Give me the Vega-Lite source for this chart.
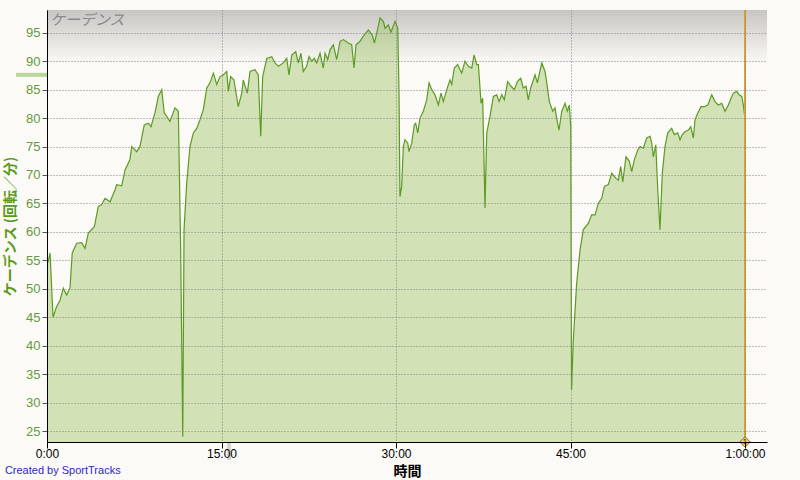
{
  "$schema": "https://vega.github.io/schema/vega-lite/v6.json",
  "width": 720,
  "height": 432,
  "autosize": {"type": "none"},
  "padding": {"left": 47, "top": 10, "right": 33, "bottom": 38},
  "background": "#fbfaf6",
  "config": {
    "view": {"stroke": null},
    "font": "Liberation Sans"
  },
  "datasets": {
    "one": [{}],
    "cad": [
      {"t": 0.0, "v": 54.5}, {"t": 0.11, "v": 54.8}, {"t": 0.26, "v": 56.3}, {"t": 0.52, "v": 45.0},
      {"t": 0.83, "v": 46.9}, {"t": 1.12, "v": 48.0}, {"t": 1.40, "v": 50.1}, {"t": 1.69, "v": 48.9},
      {"t": 1.98, "v": 50.2}, {"t": 2.17, "v": 56.3}, {"t": 2.55, "v": 58.0}, {"t": 2.98, "v": 58.1},
      {"t": 3.27, "v": 57.1}, {"t": 3.55, "v": 59.8}, {"t": 4.07, "v": 60.9}, {"t": 4.41, "v": 64.5},
      {"t": 4.70, "v": 64.8}, {"t": 4.99, "v": 65.9}, {"t": 5.42, "v": 65.3}, {"t": 5.85, "v": 67.4},
      {"t": 5.99, "v": 68.3}, {"t": 6.42, "v": 68.1}, {"t": 6.71, "v": 70.9}, {"t": 7.13, "v": 72.7},
      {"t": 7.28, "v": 75.0}, {"t": 7.71, "v": 74.1}, {"t": 7.99, "v": 75.0}, {"t": 8.36, "v": 78.8},
      {"t": 8.71, "v": 79.1}, {"t": 8.94, "v": 78.5}, {"t": 9.28, "v": 80.9}, {"t": 9.57, "v": 83.8},
      {"t": 9.86, "v": 85.0}, {"t": 10.08, "v": 80.9}, {"t": 10.29, "v": 80.3}, {"t": 10.57, "v": 79.4},
      {"t": 11.00, "v": 81.8}, {"t": 11.29, "v": 81.2}, {"t": 11.49, "v": 56.8}, {"t": 11.67, "v": 24.0},
      {"t": 11.78, "v": 60.4}, {"t": 12.01, "v": 68.6}, {"t": 12.29, "v": 75.0}, {"t": 12.58, "v": 77.4},
      {"t": 12.87, "v": 78.2}, {"t": 13.15, "v": 79.7}, {"t": 13.44, "v": 81.5}, {"t": 13.73, "v": 85.3},
      {"t": 14.01, "v": 86.2}, {"t": 14.30, "v": 87.9}, {"t": 14.59, "v": 85.9}, {"t": 14.87, "v": 87.3},
      {"t": 15.16, "v": 87.6}, {"t": 15.45, "v": 88.2}, {"t": 15.59, "v": 84.7}, {"t": 15.79, "v": 87.3},
      {"t": 16.07, "v": 86.7}, {"t": 16.44, "v": 82.0}, {"t": 16.74, "v": 84.4}, {"t": 16.87, "v": 86.7},
      {"t": 17.22, "v": 84.4}, {"t": 17.45, "v": 88.2}, {"t": 17.88, "v": 88.5}, {"t": 18.16, "v": 87.6},
      {"t": 18.37, "v": 76.8}, {"t": 18.54, "v": 87.3}, {"t": 18.89, "v": 90.5}, {"t": 19.32, "v": 90.8},
      {"t": 19.60, "v": 89.7}, {"t": 19.88, "v": 89.1}, {"t": 20.31, "v": 89.7}, {"t": 20.61, "v": 90.5},
      {"t": 20.80, "v": 87.6}, {"t": 21.04, "v": 91.1}, {"t": 21.38, "v": 91.7}, {"t": 21.60, "v": 89.7},
      {"t": 21.83, "v": 91.4}, {"t": 22.03, "v": 88.2}, {"t": 22.32, "v": 89.1}, {"t": 22.52, "v": 90.8},
      {"t": 22.75, "v": 90.0}, {"t": 22.98, "v": 90.5}, {"t": 23.18, "v": 89.7}, {"t": 23.47, "v": 91.4},
      {"t": 23.75, "v": 88.8}, {"t": 23.90, "v": 91.4}, {"t": 24.13, "v": 90.3}, {"t": 24.33, "v": 92.0},
      {"t": 24.61, "v": 92.9}, {"t": 24.90, "v": 90.3}, {"t": 25.19, "v": 93.5}, {"t": 25.47, "v": 93.8},
      {"t": 25.90, "v": 93.2}, {"t": 26.19, "v": 92.9}, {"t": 26.39, "v": 88.8}, {"t": 26.56, "v": 92.9},
      {"t": 26.91, "v": 93.5}, {"t": 27.19, "v": 94.4}, {"t": 27.62, "v": 95.5}, {"t": 27.96, "v": 94.6},
      {"t": 28.14, "v": 93.2}, {"t": 28.34, "v": 94.9}, {"t": 28.63, "v": 97.6}, {"t": 28.91, "v": 97.0},
      {"t": 29.06, "v": 95.8}, {"t": 29.34, "v": 96.4}, {"t": 29.57, "v": 95.1}, {"t": 29.92, "v": 97.0},
      {"t": 30.15, "v": 95.8}, {"t": 30.26, "v": 84.4}, {"t": 30.34, "v": 66.2}, {"t": 30.49, "v": 68.0},
      {"t": 30.63, "v": 75.0}, {"t": 30.77, "v": 76.2}, {"t": 31.01, "v": 75.6}, {"t": 31.12, "v": 74.1},
      {"t": 31.35, "v": 75.6}, {"t": 31.57, "v": 78.8}, {"t": 31.69, "v": 79.1}, {"t": 31.87, "v": 77.4},
      {"t": 32.06, "v": 80.0}, {"t": 32.35, "v": 81.2}, {"t": 32.64, "v": 83.2}, {"t": 32.84, "v": 86.2},
      {"t": 33.07, "v": 85.0}, {"t": 33.35, "v": 84.1}, {"t": 33.64, "v": 82.3}, {"t": 33.87, "v": 84.4},
      {"t": 34.07, "v": 82.9}, {"t": 34.36, "v": 85.0}, {"t": 34.64, "v": 86.7}, {"t": 34.79, "v": 85.9},
      {"t": 35.01, "v": 88.8}, {"t": 35.30, "v": 89.4}, {"t": 35.50, "v": 88.5}, {"t": 35.65, "v": 87.9},
      {"t": 35.93, "v": 90.0}, {"t": 36.22, "v": 89.1}, {"t": 36.51, "v": 88.8}, {"t": 36.71, "v": 91.1},
      {"t": 36.94, "v": 89.4}, {"t": 37.08, "v": 89.4}, {"t": 37.31, "v": 82.6}, {"t": 37.45, "v": 83.5},
      {"t": 37.65, "v": 64.2}, {"t": 37.80, "v": 77.4}, {"t": 38.08, "v": 80.3}, {"t": 38.37, "v": 83.8},
      {"t": 38.66, "v": 84.1}, {"t": 38.86, "v": 82.9}, {"t": 39.09, "v": 84.1}, {"t": 39.31, "v": 83.2},
      {"t": 39.60, "v": 86.4}, {"t": 39.89, "v": 85.6}, {"t": 40.17, "v": 85.0}, {"t": 40.43, "v": 86.4},
      {"t": 40.72, "v": 87.0}, {"t": 40.94, "v": 85.3}, {"t": 41.18, "v": 85.6}, {"t": 41.37, "v": 83.2},
      {"t": 41.58, "v": 85.3}, {"t": 41.95, "v": 87.6}, {"t": 42.15, "v": 86.2}, {"t": 42.53, "v": 89.7},
      {"t": 42.81, "v": 88.2}, {"t": 42.96, "v": 86.2}, {"t": 43.18, "v": 82.9}, {"t": 43.47, "v": 81.2},
      {"t": 43.67, "v": 81.8}, {"t": 43.81, "v": 80.0}, {"t": 44.01, "v": 77.9}, {"t": 44.25, "v": 81.2},
      {"t": 44.53, "v": 82.6}, {"t": 44.73, "v": 81.2}, {"t": 44.90, "v": 82.3}, {"t": 45.02, "v": 78.5},
      {"t": 45.09, "v": 32.2}, {"t": 45.24, "v": 41.0}, {"t": 45.53, "v": 51.0}, {"t": 45.82, "v": 56.8},
      {"t": 46.10, "v": 60.4}, {"t": 46.53, "v": 61.5}, {"t": 46.82, "v": 63.0}, {"t": 47.11, "v": 63.0},
      {"t": 47.39, "v": 65.0}, {"t": 47.68, "v": 65.9}, {"t": 47.91, "v": 68.0}, {"t": 48.25, "v": 68.3},
      {"t": 48.54, "v": 70.3}, {"t": 48.91, "v": 69.4}, {"t": 49.11, "v": 69.1}, {"t": 49.32, "v": 71.5},
      {"t": 49.49, "v": 68.8}, {"t": 49.77, "v": 73.2}, {"t": 50.06, "v": 72.4}, {"t": 50.26, "v": 70.6},
      {"t": 50.49, "v": 72.7}, {"t": 50.78, "v": 74.4}, {"t": 50.98, "v": 75.0}, {"t": 51.26, "v": 74.7},
      {"t": 51.55, "v": 76.5}, {"t": 51.84, "v": 76.8}, {"t": 51.98, "v": 75.6}, {"t": 52.12, "v": 73.2},
      {"t": 52.33, "v": 75.3}, {"t": 52.50, "v": 67.4}, {"t": 52.69, "v": 60.4}, {"t": 52.89, "v": 70.3},
      {"t": 53.12, "v": 75.0}, {"t": 53.36, "v": 77.4}, {"t": 53.70, "v": 78.2}, {"t": 53.92, "v": 77.1},
      {"t": 54.22, "v": 77.4}, {"t": 54.41, "v": 76.2}, {"t": 54.61, "v": 77.1}, {"t": 54.84, "v": 77.6},
      {"t": 55.13, "v": 77.9}, {"t": 55.34, "v": 78.5}, {"t": 55.56, "v": 76.5}, {"t": 55.70, "v": 79.7},
      {"t": 55.94, "v": 80.9}, {"t": 56.22, "v": 82.0}, {"t": 56.50, "v": 82.0}, {"t": 56.80, "v": 82.3},
      {"t": 57.14, "v": 84.1}, {"t": 57.42, "v": 82.9}, {"t": 57.71, "v": 82.3}, {"t": 58.00, "v": 82.6},
      {"t": 58.28, "v": 81.2}, {"t": 58.57, "v": 82.3}, {"t": 58.80, "v": 83.5}, {"t": 59.00, "v": 84.4},
      {"t": 59.29, "v": 84.7}, {"t": 59.49, "v": 84.1}, {"t": 59.72, "v": 83.8}, {"t": 59.86, "v": 82.3},
      {"t": 59.96, "v": 80.5}
    ]
  },
  "layer": [
    {
      "data": {"name": "one"},
      "mark": {
        "type": "rect",
        "fill": {
          "gradient": "linear", "x1": 0, "y1": 0, "x2": 0, "y2": 1,
          "stops": [{"offset": 0, "color": "#c8c6c2"}, {"offset": 1, "color": "#fbfaf6"}]
        }
      },
      "encoding": {
        "x": {"datum": 0, "type": "quantitative", "scale": {"domain": [0, 61.89], "nice": false, "zero": false}},
        "x2": {"datum": 61.89},
        "y": {"datum": 99.0, "type": "quantitative", "scale": {"domain": [23.07, 99.0], "nice": false, "zero": false}},
        "y2": {"datum": 89.5}
      }
    },
    {
      "data": {"name": "cad"},
      "mark": {
        "type": "area",
        "fill": "#98c05e",
        "fillOpacity": 0.42,
        "line": {"color": "#5b9b22", "strokeWidth": 1.2}
      },
      "encoding": {
        "x": {
          "field": "t", "type": "quantitative",
          "scale": {"domain": [0, 61.89], "nice": false, "zero": false},
          "axis": {
            "values": [0, 15, 30, 45, 60],
            "tickCount": 10,
            "labelExpr": "datum.value == 60 ? '1:00:00' : datum.value + ':00'",
            "title": "時間",
            "titleFont": "Noto Sans CJK JP",
            "titleFontSize": 14,
            "titleFontWeight": "bold",
            "titleColor": "#000000",
            "titlePadding": 5,
            "labelFontSize": 12,
            "labelColor": "#000000",
            "labelPadding": 0,
            "labelFlush": false,
            "labelOverlap": false,
            "domainColor": "#000000",
            "domainWidth": 1,
            "tickColor": "#000000",
            "tickSize": 6,
            "grid": true,
            "gridColor": "#808080",
            "gridDash": [1, 2],
            "gridWidth": 1,
            "zindex": 1
          }
        },
        "y": {
          "field": "v", "type": "quantitative",
          "scale": {"domain": [23.07, 99.0], "nice": false, "zero": false},
          "axis": {
            "values": [25, 30, 35, 40, 45, 50, 55, 60, 65, 70, 75, 80, 85, 90, 95],
            "tickCount": 20,
            "labelOverlap": false,
            "title": "ケーデンス (回転／分)",
            "titleFont": "Noto Sans CJK JP",
            "titleFontSize": 14,
            "titleFontWeight": "bold",
            "titleColor": "#5a9a1a",
            "titleX": -37,
            "titleBaseline": "middle",
            "labelFontSize": 13,
            "labelColor": "#66993c",
            "labelPadding": 2,
            "domainColor": "#000000",
            "domainWidth": 1,
            "tickColor": "#555555",
            "tickSize": 5,
            "grid": true,
            "gridColor": "#808080",
            "gridDash": [1, 2],
            "gridWidth": 1,
            "zindex": 1
          }
        },
        "y2": {"datum": 23.07}
      }
    },
    {
      "data": {"name": "one"},
      "mark": {"type": "rule", "color": "#e0a030", "strokeWidth": 2},
      "encoding": {
        "x": {"datum": 60.0, "type": "quantitative", "scale": {"domain": [0, 61.89], "nice": false, "zero": false}},
        "y": {"datum": 99.0, "type": "quantitative", "scale": {"domain": [23.07, 99.0], "nice": false, "zero": false}},
        "y2": {"datum": 23.07}
      }
    },
    {
      "data": {"name": "one"},
      "mark": {"type": "rule", "color": "#b9d59b", "strokeWidth": 4},
      "encoding": {
        "x": {"datum": -2.66, "type": "quantitative", "scale": {"domain": [0, 61.89], "nice": false, "zero": false}},
        "x2": {"datum": 0},
        "y": {"datum": 87.6, "type": "quantitative", "scale": {"domain": [23.07, 99.0], "nice": false, "zero": false}}
      }
    },
    {
      "data": {"name": "one"},
      "mark": {"type": "rule", "color": "#d3d3d3", "strokeWidth": 4},
      "encoding": {
        "x": {"datum": 15.65, "type": "quantitative", "scale": {"domain": [0, 61.89], "nice": false, "zero": false}},
        "y": {"datum": 22.9, "type": "quantitative", "scale": {"domain": [23.07, 99.0], "nice": false, "zero": false}},
        "y2": {"datum": 19.9}
      }
    },
    {
      "data": {"name": "one"},
      "mark": {"type": "point", "shape": "diamond", "filled": true, "fill": "#f2d062", "stroke": "#8a6a20", "strokeWidth": 1, "size": 110, "opacity": 1},
      "encoding": {
        "x": {"datum": 60.0, "type": "quantitative", "scale": {"domain": [0, 61.89], "nice": false, "zero": false}},
        "y": {"datum": 23.07, "type": "quantitative", "scale": {"domain": [23.07, 99.0], "nice": false, "zero": false}}
      }
    },
    {
      "data": {"name": "one"},
      "mark": {"type": "text", "text": "1", "fontSize": 7, "color": "#000000", "align": "center", "baseline": "middle"},
      "encoding": {
        "x": {"datum": 60.0, "type": "quantitative", "scale": {"domain": [0, 61.89], "nice": false, "zero": false}},
        "y": {"datum": 23.07, "type": "quantitative", "scale": {"domain": [23.07, 99.0], "nice": false, "zero": false}}
      }
    },
    {
      "data": {"name": "one"},
      "mark": {"type": "text", "text": "ケーデンス", "font": "Noto Sans CJK JP", "fontSize": 15, "fontStyle": "italic", "color": "#8a8a8a", "align": "left", "baseline": "alphabetic"},
      "encoding": {
        "x": {"datum": 0.25, "type": "quantitative", "scale": {"domain": [0, 61.89], "nice": false, "zero": false}},
        "y": {"datum": 96.4, "type": "quantitative", "scale": {"domain": [23.07, 99.0], "nice": false, "zero": false}}
      }
    },
    {
      "data": {"name": "one"},
      "mark": {"type": "text", "text": "Created by SportTracks", "fontSize": 11, "color": "#2b2bc0", "align": "left", "baseline": "middle"},
      "encoding": {
        "x": {"datum": -3.62, "type": "quantitative", "scale": {"domain": [0, 61.89], "nice": false, "zero": false}},
        "y": {"datum": 18.0, "type": "quantitative", "scale": {"domain": [23.07, 99.0], "nice": false, "zero": false}}
      }
    }
  ]
}
